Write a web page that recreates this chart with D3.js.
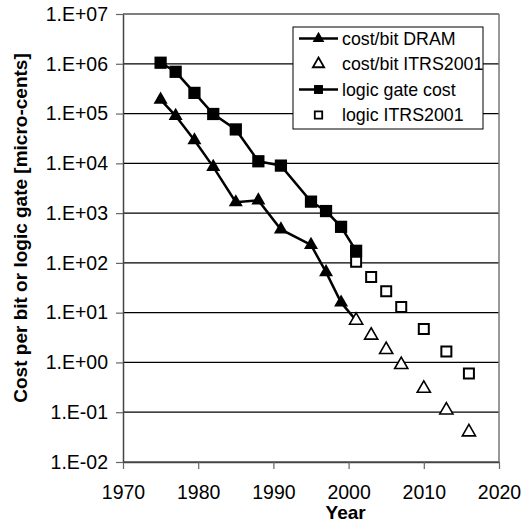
<!DOCTYPE html>
<html>
<head>
<meta charset="utf-8">
<script src="https://cdn.jsdelivr.net/npm/d3@7"></script>
<style>
  body { margin: 0; background: #fff; }
  svg { font-family: "Liberation Sans", Arial, sans-serif; }
</style>
</head>
<body>
<div id="chart"></div>
<script>
// data
const years = [1975, 1977, 1979.5, 1982, 1985, 1988, 1991, 1995, 1997, 1999, 2001];
const dramCost = [1.9e5, 9e4, 2.9e4, 8.5e3, 1.65e3, 1.8e3, 4.7e2, 2.3e2, 6.5e1, 1.6e1, 7];
const logicCost = [1.05e6, 6.9e5, 2.6e5, 9.8e4, 4.8e4, 1.1e4, 9e3, 1.7e3, 1.1e3, 5.3e2, 1.75e2];

const itrsYears = [2001, 2003, 2005, 2007, 2010, 2013, 2016];
const dramItrs = [7, 3.5, 1.8, 0.9, 0.3, 0.11, 0.04];
const logicItrs = [105, 52, 27, 13, 4.7, 1.65, 0.6];

const xTicks = [1970, 1980, 1990, 2000, 2010, 2020];
const yTicks = [1e-2, 1e-1, 1e0, 1e1, 1e2, 1e3, 1e4, 1e5, 1e6, 1e7];
const yTickLabels = ['1.E-02', '1.E-01', '1.E+00', '1.E+01', '1.E+02', '1.E+03', '1.E+04', '1.E+05', '1.E+06', '1.E+07'];

const legendLabels = ['cost/bit DRAM', 'cost/bit ITRS2001', 'logic gate cost', 'logic ITRS2001'];

const W = 525, H = 523;
const margin = { top: 14, right: 26, bottom: 61, left: 123 };
const width = W - margin.left - margin.right;
const height = H - margin.top - margin.bottom;

const svg = d3.select('#chart').append('svg')
  .attr('width', W)
  .attr('height', H);

const x = d3.scaleLinear().domain([1970, 2020]).range([0, width]);
const y = d3.scaleLog().domain([1e-2, 1e7]).range([height, 0]);

const g = svg.append('g')
  .attr('transform', `translate(${margin.left},${margin.top})`);

// horizontal gridlines
g.selectAll('.grid')
  .data(yTicks)
  .enter().append('line')
  .attr('class', 'grid')
  .attr('x1', 0).attr('x2', width)
  .attr('y1', d => y(d)).attr('y2', d => y(d))
  .attr('stroke', '#000')
  .attr('stroke-width', 1.2);

// right frame
g.append('line')
  .attr('x1', width).attr('x2', width)
  .attr('y1', 0).attr('y2', height)
  .attr('stroke', '#777')
  .attr('stroke-width', 1.5);

// axes
const xAxis = g.append('g')
  .attr('transform', `translate(0,${height})`)
  .call(d3.axisBottom(x).tickValues(xTicks).tickFormat(d3.format('d')).tickSize(7).tickSizeOuter(0).tickPadding(16));

const yAxis = g.append('g')
  .call(d3.axisLeft(y).tickValues(yTicks).tickFormat((d, i) => yTickLabels[i]).tickSize(7).tickSizeOuter(0).tickPadding(8));

[xAxis, yAxis].forEach(a => {
  a.select('.domain').attr('stroke', '#444').attr('stroke-width', 1.5);
  a.selectAll('.tick line').attr('stroke', '#666').attr('stroke-width', 1.2);
  a.selectAll('.tick text').attr('font-size', 19.5).attr('fill', '#000')
    .attr('font-family', '"Liberation Sans", Arial, sans-serif');
});

// axis titles
svg.append('text')
  .attr('x', margin.left + x(2000) - 3)
  .attr('y', 519)
  .attr('text-anchor', 'middle')
  .attr('font-size', 19)
  .attr('font-weight', 'bold')
  .text('Year');

svg.append('text')
  .attr('transform', 'translate(27,228) rotate(-90)')
  .attr('text-anchor', 'middle')
  .attr('font-size', 19)
  .attr('font-weight', 'bold')
  .text('Cost per bit or logic gate [micro-cents]');

const triFilled = d3.symbol().type(d3.symbolTriangle).size(85);
const triOpen = d3.symbol().type(d3.symbolTriangle).size(75);
const sqFilled = d3.symbol().type(d3.symbolSquare).size(150);
const sqOpen = d3.symbol().type(d3.symbolSquare).size(100);

const line = d3.line().x(d => x(d[0])).y(d => y(d[1]));

const dramData = years.map((yr, i) => [yr, dramCost[i]]);
const logicData = years.map((yr, i) => [yr, logicCost[i]]);
const dramItrsData = itrsYears.map((yr, i) => [yr, dramItrs[i]]);
const logicItrsData = itrsYears.map((yr, i) => [yr, logicItrs[i]]);

// lines
[dramData, logicData].forEach(data => {
  g.append('path')
    .datum(data)
    .attr('d', line)
    .attr('fill', 'none')
    .attr('stroke', '#000')
    .attr('stroke-width', 2.5);
});

// filled markers
g.selectAll('.dram')
  .data(dramData)
  .enter().append('path')
  .attr('d', triFilled)
  .attr('transform', d => `translate(${x(d[0])},${y(d[1])})`)
  .attr('fill', '#000');

g.selectAll('.logic')
  .data(logicData)
  .enter().append('path')
  .attr('d', sqFilled)
  .attr('transform', d => `translate(${x(d[0])},${y(d[1])})`)
  .attr('fill', '#000');

// open markers (ITRS 2001)
g.selectAll('.dramItrs')
  .data(dramItrsData)
  .enter().append('path')
  .attr('d', triOpen)
  .attr('transform', d => `translate(${x(d[0])},${y(d[1])})`)
  .attr('fill', '#fff')
  .attr('stroke', '#000')
  .attr('stroke-width', 1.6);

g.selectAll('.logicItrs')
  .data(logicItrsData)
  .enter().append('path')
  .attr('d', sqOpen)
  .attr('transform', d => `translate(${x(d[0])},${y(d[1])})`)
  .attr('fill', '#fff')
  .attr('stroke', '#000')
  .attr('stroke-width', 2);

// legend
const legend = svg.append('g').attr('transform', 'translate(293,27)');
legend.append('rect')
  .attr('width', 190).attr('height', 102)
  .attr('fill', '#fff')
  .attr('stroke', '#000')
  .attr('stroke-width', 1);

const legendSyms = [triFilled, triOpen, sqFilled, sqOpen];
const legendLines = [true, false, true, false];
legendLabels.forEach((label, i) => {
  const row = legend.append('g').attr('transform', `translate(0,${11.5 + i * 25.5})`);
  if (legendLines[i]) {
    row.append('line')
      .attr('x1', 6).attr('x2', 45)
      .attr('stroke', '#000').attr('stroke-width', 2.5);
  }
  const filled = legendLines[i];
  row.append('path')
    .attr('d', legendSyms[i].size(filled ? (i === 0 ? 60 : 80) : 55)())
    .attr('transform', 'translate(25.5,0)')
    .attr('fill', filled ? '#000' : '#fff')
    .attr('stroke', filled ? 'none' : '#000')
    .attr('stroke-width', 1.8);
  row.append('text')
    .attr('x', 49)
    .attr('dy', '0.35em')
    .attr('font-size', 17.8)
    .text(label);
});
</script>
</body>
</html>
